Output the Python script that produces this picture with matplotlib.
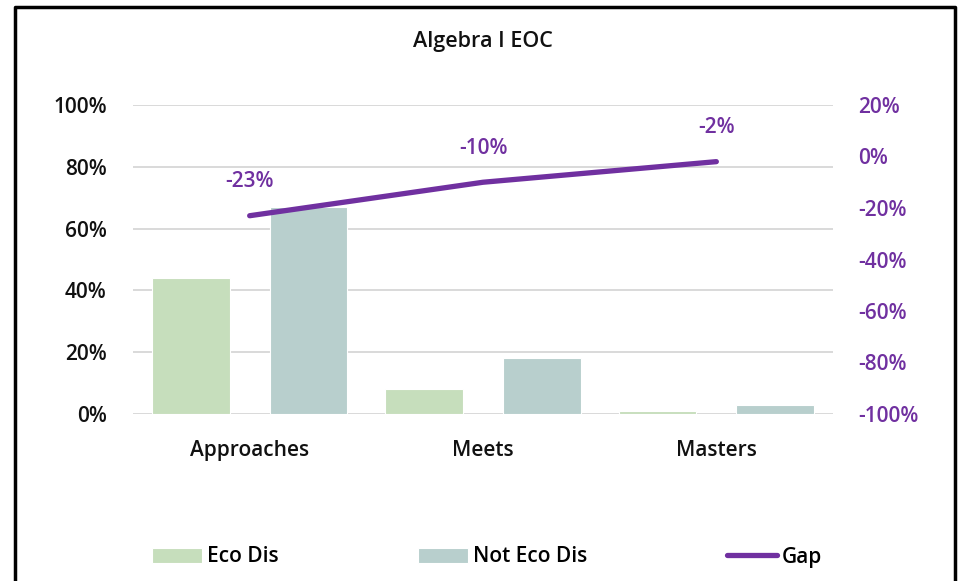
import matplotlib.pyplot as plt
from matplotlib.ticker import PercentFormatter
import numpy as np

plt.rcParams['font.family'] = ['Open Sans', 'DejaVu Sans']
plt.rcParams['font.weight'] = 600
plt.rcParams['axes.unicode_minus'] = False

categories = ['Approaches', 'Meets', 'Masters']
eco_dis = [44, 8, 1]
not_eco_dis = [67, 18, 3]
gap = [-23, -10, -2]
gap_labels = ['-23%', '-10%', '-2%']

green = '#C6DEBC'
teal = '#B8CFCD'
purple = '#7030A0'
grid_col = '#D9D9D9'
fs = 15

fig = plt.figure(figsize=(9.63, 5.81), dpi=100)
ax = fig.add_axes([133/963, 167/581, 700/963, 309/581])
ax2 = ax.twinx()

x = np.arange(len(categories))
ax.bar(x - 0.252, eco_dis, width=0.333, color=green, edgecolor='white', linewidth=0.8,
       label='Eco Dis', zorder=2)
ax.bar(x + 0.252, not_eco_dis, width=0.333, color=teal, edgecolor='white', linewidth=0.8,
       label='Not Eco Dis', zorder=2)

ax2.plot(x, gap, color=purple, lw=3.8, solid_capstyle='round', label='Gap', zorder=3)
for xi, g, lab in zip(x, gap, gap_labels):
    ax2.annotate(lab, (xi, g), xytext=(0, 24.5), textcoords='offset points',
                 ha='center', va='center', color=purple, fontsize=fs)

ax.set_xlim(-0.5, 2.5)
ax.set_ylim(0, 100)
ax2.set_ylim(-100, 20)
ax.set_yticks(np.arange(0, 101, 20))
ax2.set_yticks(np.arange(-100, 21, 20))
ax.yaxis.set_major_formatter(PercentFormatter(decimals=0))
ax2.yaxis.set_major_formatter(PercentFormatter(decimals=0))
ax.set_xticks(x)
ax.set_xticklabels(categories)

ax.grid(axis='y', color=grid_col, lw=1.4, zorder=0)
ax.set_axisbelow(True)
for a in (ax, ax2):
    for s in a.spines.values():
        s.set_visible(False)
ax.tick_params(axis='y', length=0, pad=19, labelsize=fs, colors='#111111')
ax.tick_params(axis='x', length=0, pad=19, labelsize=fs, colors='#111111')
ax2.tick_params(axis='y', length=0, pad=18, labelsize=fs, colors=purple)

fig.text(483/963, 1 - 42/581, 'Algebra I EOC', ha='center', va='center', fontsize=15.5, color='#111111')

handles = ax.get_legend_handles_labels()[0] + ax2.get_legend_handles_labels()[0]
labels = ['Eco Dis', 'Not Eco Dis', 'Gap']
fig.legend(handles, labels, loc='center', bbox_to_anchor=(487/963, 1 - 557/581), ncol=3,
           frameon=False, fontsize=fs, handlelength=2.4,
           handletextpad=0.25, columnspacing=6.7)

# outer frame (left, top, right edges)
fig.add_artist(plt.Line2D([15/963, 15/963, 955/963, 955/963],
                          [0, 1 - 7/581, 1 - 7/581, 0],
                          transform=fig.transFigure, color='black', lw=2.5))

fig.savefig('out.png', dpi=100)
